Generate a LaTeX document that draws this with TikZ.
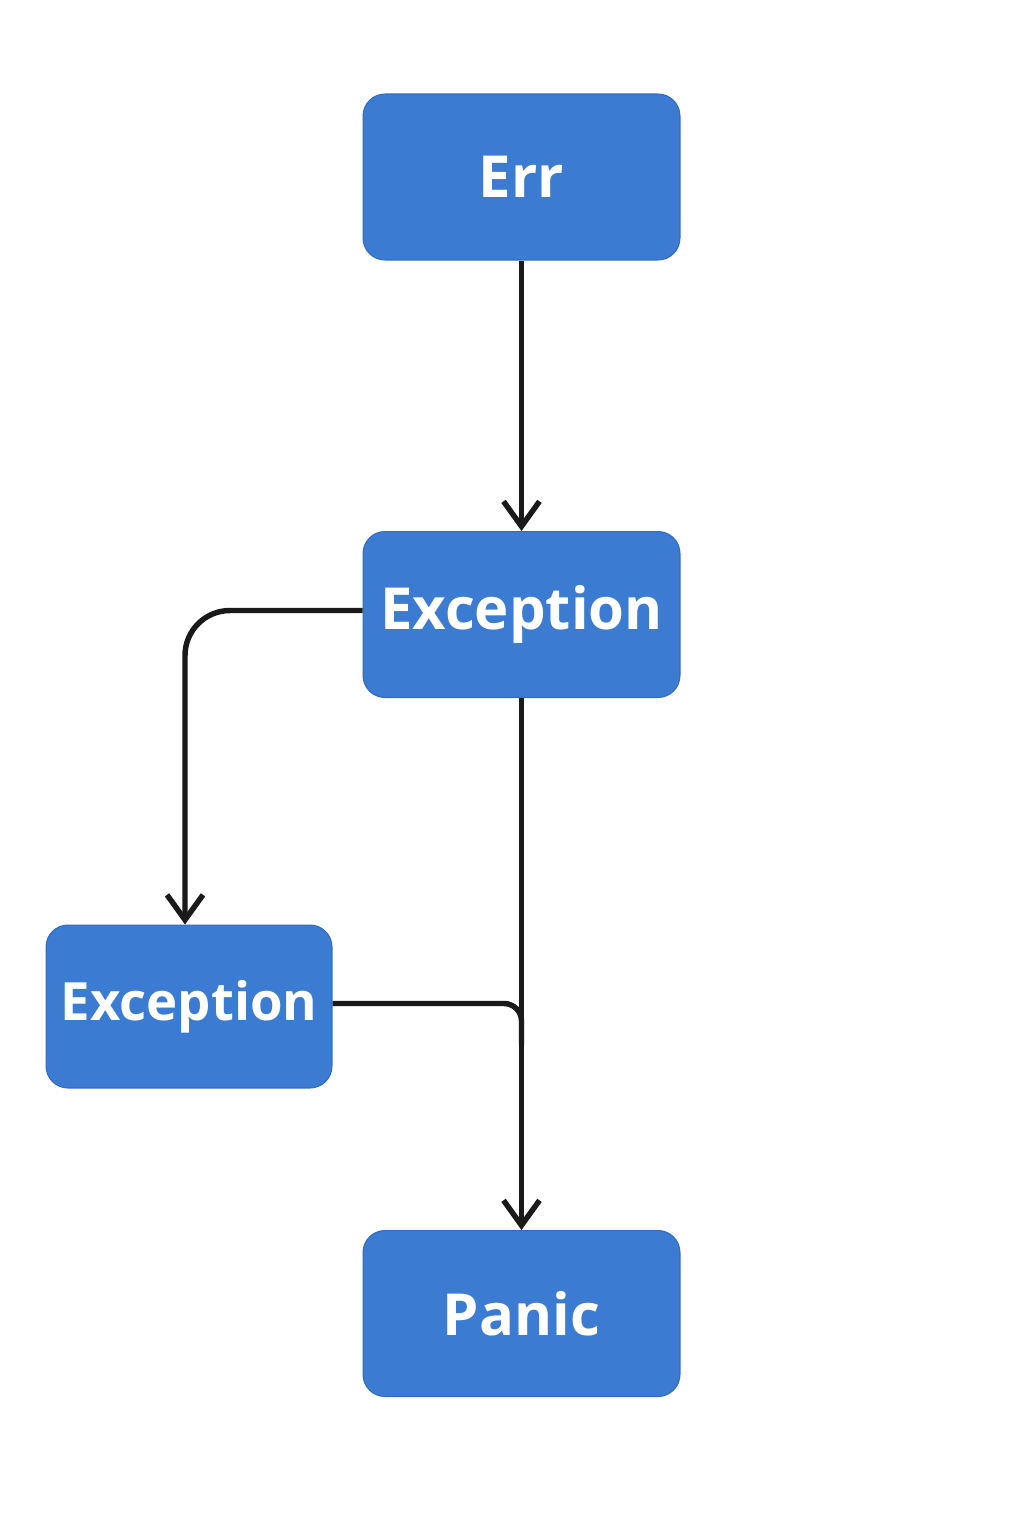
\documentclass[tikz,border=0pt]{standalone}
\usepackage{fontspec}
\setmainfont{Open Sans}
\usetikzlibrary{arrows.meta}
\definecolor{boxblue}{HTML}{3B7BD1}
\definecolor{boxedge}{HTML}{2F6CC4}
\definecolor{linek}{HTML}{1A1A1A}
\tikzset{
  box/.style={draw=boxedge, line width=0.6pt, fill=boxblue, rounded corners=0.44cm,
    minimum width=6.34cm, minimum height=3.32cm, text=white, inner sep=0pt,
    font=\fontsize{33}{40}\selectfont\bfseries},
  smallbox/.style={box, minimum width=5.72cm, minimum height=3.26cm, font=\fontsize{30}{36}\selectfont\bfseries},
  conn/.style={draw=linek, line width=3.1pt},
  arr/.style={conn, -{Straight Barb[length=0.5cm, width=0.72cm, line width=3.1pt]}}
}
\begin{document}
\begin{tikzpicture}[x=0.02cm, y=-0.02cm]
\useasboundingbox (0,0) rectangle (1024,1536);
\node[box] (err) at (521.5,177) {Err};
\node[box] (exc1) at (521.5,614.5) {Exception};
\node[smallbox] (exc2) at (189,1006.5) {Exception};
\node[box] (panic) at (521.5,1313.5) {Panic};
\coordinate (merge) at (521.5,1045);
\draw[arr] (err.south) -- (exc1.north);
\draw[arr, rounded corners=0.9cm] ([yshift=0.08cm]exc1.west) -| ([xshift=-0.08cm]exc2.north);
\draw[arr] (exc1.south) -- (panic.north);
\draw[conn, rounded corners=0.35cm] ([yshift=0.06cm]exc2.east) -| (merge);
\end{tikzpicture}
\end{document}
